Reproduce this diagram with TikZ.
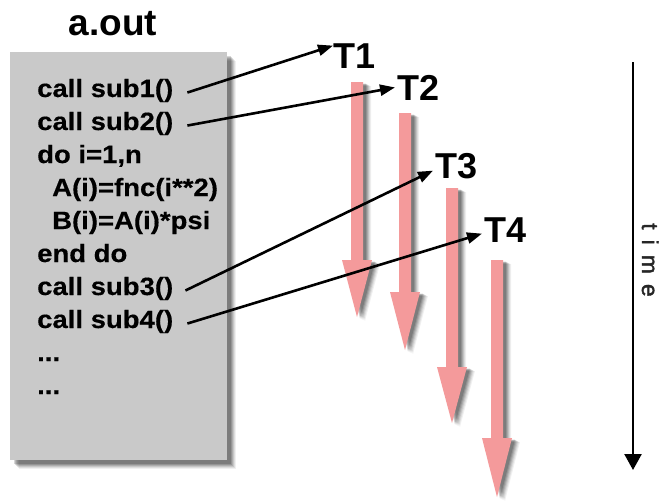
\documentclass[tikz,border=0pt]{standalone}
\usepackage{fontspec}
\setmainfont{Liberation Sans}
\newfontfamily\codefont[FakeStretch=1.1,FakeBold=0.4]{Liberation Sans}
\newfontfamily\axisfont[FakeBold=1.5]{Liberation Sans}
\usetikzlibrary{arrows.meta}
\definecolor{boxgray}{HTML}{C9C9C9}
\definecolor{threadred}{HTML}{F49A9B}

% a thread's time line: shaft from #2 to #3, head down to #4, centred on x=#1
\newcommand\threadpath[4]{(#1-6,#2) -- (#1+6,#2) -- (#1+6,#3) -- (#1+15,#3) -- (#1,#4) -- (#1-15,#3) -- (#1-6,#3) -- cycle}
\newcommand\threadarrow[4]{%
  \foreach \d/\o in {8/0.06,7/0.08,6/0.1,5/0.12,4/0.14,3/0.16}{%
    \fill[black,opacity=\o,shift={(\d,\d*0.5)}] \threadpath{#1}{#2}{#3}{#4};}
  \fill[threadred] \threadpath{#1}{#2}{#3}{#4};}

\begin{document}
\begin{tikzpicture}[x=1pt,y=-1pt,
  code/.style={anchor=base west, inner sep=0pt,
    font=\codefont\bfseries\fontsize{25}{25}\selectfont},
  thread/.style={anchor=base west, inner sep=0pt,
    font=\bfseries\fontsize{36}{36}\selectfont},
  call/.style={line width=2.6pt, -{Triangle[length=15pt,width=11pt]}},
]
\useasboundingbox (0,0) rectangle (662,501);
\fill[white] (0,0) rectangle (662,501);

% program listing box with its soft shadow
\foreach \d/\o in {9/0.06,8/0.08,7/0.1,6/0.12,5/0.14,4/0.16}{%
  \fill[black,opacity=\o] (10+\d,52+\d) rectangle (227+\d,460+\d);}
\fill[boxgray] (10,52) rectangle (227,460);

\node[anchor=base, inner sep=0pt, font=\bfseries\fontsize{37}{37}\selectfont]
  (title) at (113,35) {a.out};

\node[code] (s1) at (37,97)  {call sub1()};
\node[code] (s2) at (37,130) {call sub2()};
\node[code] (l3) at (37,163) {do i=1,n};
\node[code] (l4) at (52,196) {A(i)=fnc(i**2)};
\node[code] (l5) at (52,229) {B(i)=A(i)*psi};
\node[code] (l6) at (37,262) {end do};
\node[code] (s3) at (37,295) {call sub3()};
\node[code] (s4) at (37,328) {call sub4()};
\node[code] (l9) at (37,361) {...};
\node[code] (l10) at (37,394) {...};

% threads running down in time
\threadarrow{357}{82}{260}{317}
\threadarrow{405}{113}{292}{350}
\threadarrow{452}{188}{367}{423}
\threadarrow{497}{260}{438}{497}

% thread labels
\node[thread] (t1) at (333,68)  {T1};
\node[thread] (t2) at (397,100) {T2};
\node[thread] (t3) at (435,178) {T3};
\node[thread] (t4) at (484,242) {T4};

% calls handed to the threads
\draw[call] ([xshift=14pt,yshift=-2pt]s1.east) -- ([yshift=10pt]t1.west);
\draw[call] ([xshift=14pt,yshift=-2pt]s2.east) -- ([xshift=-2pt]t2.west);
\draw[call] ([xshift=12pt,yshift=-2pt]s3.east) -- ([xshift=-2pt,yshift=-5pt]t3.west);
\draw[call] ([xshift=14pt,yshift=-2pt]s4.east) -- ([xshift=-2pt,yshift=-4pt]t4.west);

% time axis
\coordinate (ttop) at (633,62);
\coordinate (tbot) at (633,470);
\draw[line width=2.4pt, -{Triangle[length=16pt,width=17pt]}] (ttop) -- (tbot);
\node[rotate=-90, anchor=base, inner sep=0pt, text=black!85,
  font=\axisfont\fontsize{23}{23}\selectfont]
  (time) at (642,260) {\spaceskip=10pt t i m e};
\end{tikzpicture}
\end{document}
